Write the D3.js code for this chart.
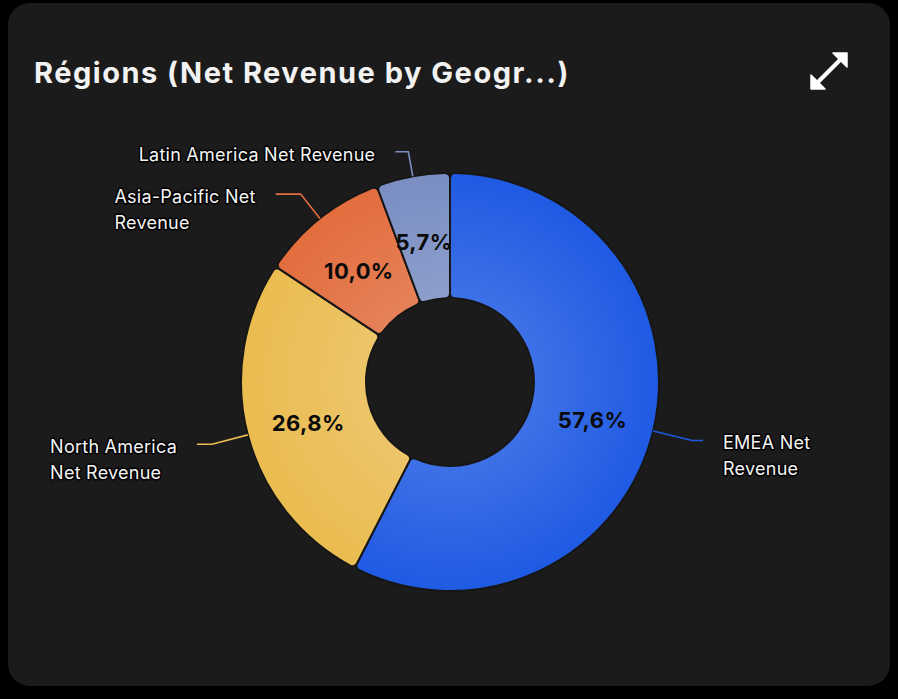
<!DOCTYPE html>
<html>
<head>
<meta charset="utf-8">
<script src="https://cdn.jsdelivr.net/npm/d3@7"></script>
<style>
  html, body { margin: 0; padding: 0; background: #000; }
  body { width: 898px; height: 699px; overflow: hidden; font-family: Inter, "Noto Sans", sans-serif; }
</style>
</head>
<body>
<div id="chart"></div>
<script>
// data
const regions = ['EMEA Net Revenue', 'North America Net Revenue', 'Asia-Pacific Net Revenue', 'Latin America Net Revenue'];
const shares = [57.6, 26.8, 10.0, 5.7];
const labelLines = [['EMEA Net', 'Revenue'], ['North America', 'Net Revenue'], ['Asia-Pacific Net', 'Revenue'], ['Latin America Net Revenue']];
const colors = ['#1f5ae3', '#eabc50', '#e26d3d', '#7a8ec3'];

// leader line lengths (radial, horizontal) per slice
const leaderLen = [[40, 11], [37, 15], [31, 25], [25, 13]];

const W = 898, H = 699;
const cx = 450, cy = 382, rOut = 209, rIn = 84;

const svg = d3.select('#chart').append('svg')
  .attr('width', W).attr('height', H).attr('viewBox', `0 0 ${W} ${H}`);

svg.append('rect').attr('x', 8).attr('y', 3).attr('width', 882).attr('height', 683)
  .attr('rx', 22).attr('fill', '#1b1b1b');

svg.append('text').attr('x', 34).attr('y', 83)
  .attr('fill', '#f2f2f2').attr('font-size', 29).attr('font-weight', 700)
  .attr('letter-spacing', 1.5)
  .text('Régions (Net Revenue by Geogr...)');

// expand icon
const ic = svg.append('g').attr('transform', 'translate(829,71)');
ic.append('line').attr('x1', -12).attr('y1', 12).attr('x2', 12).attr('y2', -12)
  .attr('stroke', '#fff').attr('stroke-width', 4);
ic.append('path').attr('d', 'M18,-18 L4,-18 L18,-4 Z').attr('fill', '#fff')
  .attr('stroke', '#fff').attr('stroke-width', 1.5).attr('stroke-linejoin', 'round');
ic.append('path').attr('d', 'M-18,18 L-4,18 L-18,4 Z').attr('fill', '#fff')
  .attr('stroke', '#fff').attr('stroke-width', 1.5).attr('stroke-linejoin', 'round');

const g = svg.append('g').attr('transform', `translate(${cx},${cy})`);

// radial gradients, lighter toward the hole (coords are in g's space)
const defs = svg.append('defs');
colors.forEach((c, i) => {
  const gr = defs.append('radialGradient').attr('id', 'grad' + i)
    .attr('gradientUnits', 'userSpaceOnUse').attr('cx', 0).attr('cy', 0).attr('r', rOut);
  gr.append('stop').attr('offset', rIn / rOut).attr('stop-color', d3.interpolateRgb(c, '#fff')(0.14));
  gr.append('stop').attr('offset', 1).attr('stop-color', c);
});

const pie = d3.pie().sort(null).value(d => d)(shares);
const arc = d3.arc().innerRadius(rIn).outerRadius(rOut).cornerRadius(5);
const labelArc = d3.arc().innerRadius(rIn).outerRadius(rOut);

g.selectAll('path.slice').data(pie).enter().append('path').attr('class', 'slice')
  .attr('d', arc)
  .attr('fill', (d, i) => `url(#grad${i})`)
  .attr('stroke', '#161616').attr('stroke-width', 2);

g.selectAll('text.pct').data(pie).enter().append('text').attr('class', 'pct')
  .attr('transform', d => { const [x, y] = labelArc.centroid(d); return `translate(${x},${y + 4})`; })
  .attr('dy', '0.35em').attr('text-anchor', 'middle')
  .attr('fill', '#0b0b0b').attr('font-size', 22).attr('font-weight', 700)
  .attr('letter-spacing', 0.4)
  .text(d => d3.format('.1f')(d.data).replace('.', ',') + '%');

// leader lines and outer labels
const fs = 18, lh = 26, gap = 20;
pie.forEach((d, i) => {
  const a = (d.startAngle + d.endAngle) / 2;
  const sx = Math.sin(a), sy = -Math.cos(a);
  const [l1, l2] = leaderLen[i];
  const p0 = [sx * rOut, sy * rOut];
  const p1 = [sx * (rOut + l1), sy * (rOut + l1)];
  const dir = sx >= 0 ? 1 : -1;
  const p2 = [p1[0] + dir * l2, p1[1]];
  g.append('path').attr('d', d3.line()([p0, p1, p2]))
    .attr('fill', 'none').attr('stroke', colors[i]).attr('stroke-width', 1.6);

  const t = g.append('text').attr('font-size', fs).attr('fill', '#f4f4f4')
    .attr('letter-spacing', 0.25)
    .attr('stroke', '#000').attr('stroke-width', 3).attr('paint-order', 'stroke')
    .attr('stroke-linejoin', 'round');
  labelLines[i].forEach((ln, j) => {
    t.append('tspan').attr('x', 0).attr('y', j * lh).attr('dy', '0.5em').text(ln);
  });
  const bw = t.node().getBBox().width;
  const tx = dir > 0 ? p2[0] + gap : p2[0] - gap - bw;
  t.attr('transform', `translate(${tx},${p2[1]})`);
});
</script>
</body>
</html>
